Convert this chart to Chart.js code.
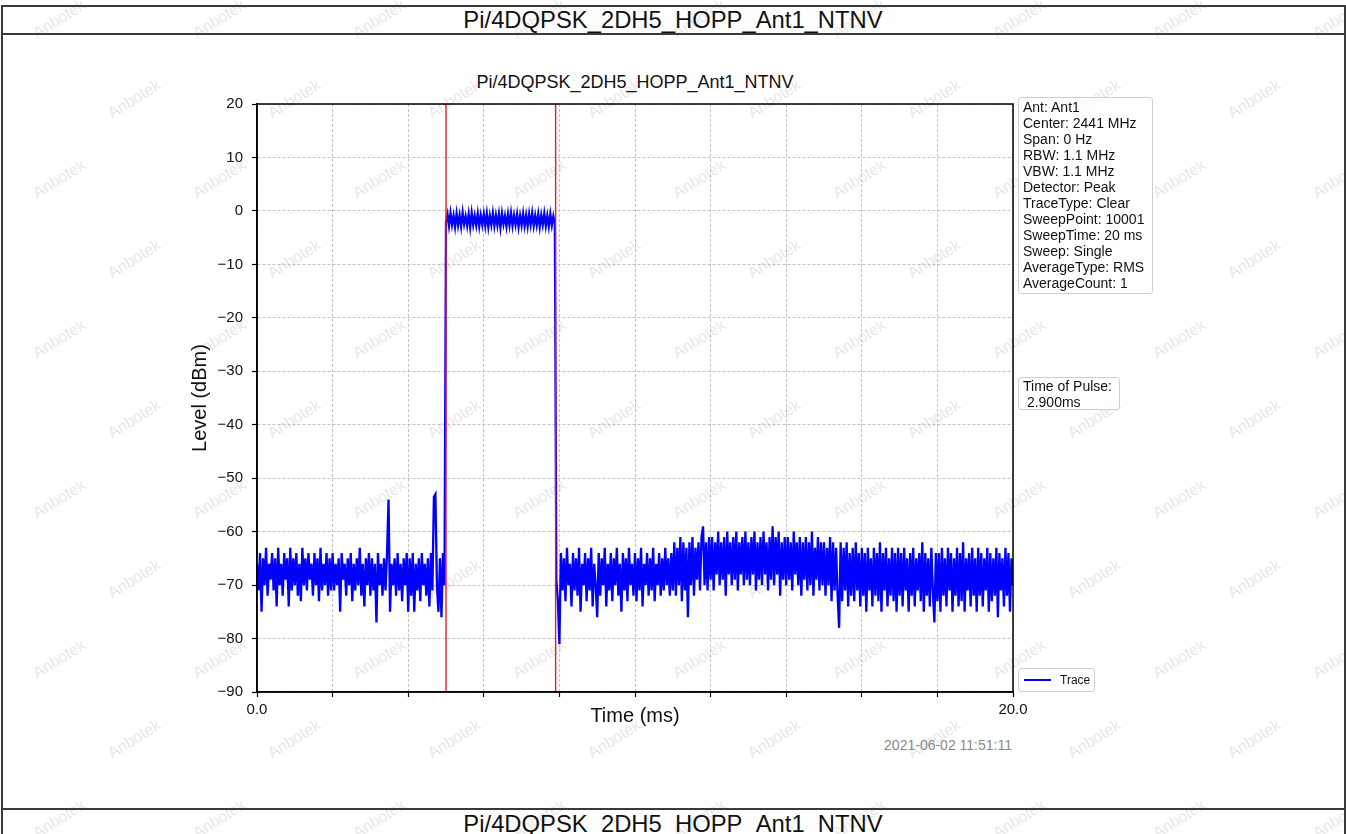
<!DOCTYPE html>
<html>
<head>
<meta charset="utf-8">
<script src="https://cdn.jsdelivr.net/npm/chart.js@4.4.1/dist/chart.umd.min.js"></script>
<style>
  body { margin: 0; width: 1346px; height: 834px; overflow: hidden; background: #fff; position: relative;
         font-family: "Liberation Sans", Arial, sans-serif; }
  .abs { position: absolute; }
  .frame { left: 1px; top: 5px; width: 1341px; height: 840px; border: 2px solid #3a3a3a; border-bottom: none; }
  .hline { left: 1px; width: 1343px; height: 0; border-top: 2px solid #3a3a3a; }
  .rowTitle { left: 0; width: 1346px; text-align: center; font-size: 23.8px; line-height: 29px; color: #111; }
  .wm { color: #e8e8e8; font-size: 16px; transform: rotate(-32deg); white-space: nowrap; }
  .box { background: rgba(255,255,255,0.85); border: 1px solid #cfcfcf; border-radius: 3px; font-size: 14px;
         line-height: 16px; color: #111; white-space: pre; box-sizing: border-box; }
</style>
</head>
<body>
<div id="wms"></div>
<div class="abs frame"></div>
<div class="abs hline" style="top:33px"></div>
<div class="abs hline" style="top:808px"></div>
<div class="abs rowTitle" style="top:5px">Pi/4DQPSK_2DH5_HOPP_Ant1_NTNV</div>
<div class="abs rowTitle" style="top:809px">Pi/4DQPSK_2DH5_HOPP_Ant1_NTNV</div>

<div class="abs" style="left:335px;width:600px;top:72px;text-align:center;font-size:18px;line-height:20px;color:#111">Pi/4DQPSK_2DH5_HOPP_Ant1_NTNV</div>

<canvas id="myChart" class="abs" style="left:180px;top:86px" width="860" height="642"></canvas>

<div id="infoBox" class="abs box" style="left:1018px;top:97px;width:135px;height:197px;padding:1px 0 0 4px"></div>
<div id="pulseBox" class="abs box" style="left:1018px;top:377px;width:102px;height:33px;padding:0 0 0 4px"></div>

<!-- legend done by hand, sits outside the plot like the original -->
<div class="abs box" style="left:1018px;top:668px;width:77px;height:24px">
  <div class="abs" style="left:5px;top:10px;width:27px;height:2px;background:#0000ff"></div>
  <div class="abs" style="left:41px;top:4px;font-size:12px;line-height:14px">Trace</div>
</div>

<div class="abs" style="left:812px;width:200px;top:737px;text-align:right;font-size:14px;line-height:16px;color:#8a8a8a">2021-06-02 11:51:11</div>

<script>
// measurement settings shown in the box on the right
const settings = ['Ant: Ant1', 'Center: 2441 MHz', 'Span: 0 Hz', 'RBW: 1.1 MHz', 'VBW: 1.1 MHz', 'Detector: Peak',
  'TraceType: Clear', 'SweepPoint: 10001', 'SweepTime: 20 ms', 'Sweep: Single', 'AverageType: RMS', 'AverageCount: 1'];
const pulseText = ['Time of Pulse:', ' 2.900ms'];

// sweep + markers (ms)
const sweepTime = 20;
const pulseStart = 5.0;
const pulseEnd = 7.9;

// axis ticks
const xTicks = [0, 2, 4, 6, 8, 10, 12, 14, 16, 18, 20];
const xLabels = ['0.0', '', '', '', '', '', '', '', '', '', '20.0'];
const yTicks = [20, 10, 0, -10, -20, -30, -40, -50, -60, -70, -80, -90];

// trace levels (dBm), one value every 0.04 ms
// noise floor before the burst, 0 - 4.96 ms
const levelsBefore = [
  -66,-71,-64,-75,-65,-70,-63,-72,-66,-69,-64,-71,-65,-74,-63,-70,-66,-72,-64,-69,-65,-74,-63,-71,-65,
  -70,-64,-72,-66,-73,-63,-70,-65,-71,-64,-69,-66,-72,-64,-70,-65,-73,-63,-71,-66,-70,-64,-72,-65,-71,
  -64,-71,-66,-70,-65,-75,-64,-69,-66,-72,-65,-70,-64,-73,-66,-71,-65,-70,-63,-72,-66,-74,-65,-70,-64,
  -72,-65,-71,-66,-77,-64,-70,-66,-72,-65,-71,-64,-54,-75,-66,-70,-65,-72,-64,-71,-66,-73,-65,-70,-64,
  -75,-65,-72,-64,-75,-66,-71,-65,-73,-64,-70,-66,-72,-65,-74,-64,-71,-53.5,-53,-70,-75,-65,-76,-64,-70
];
// the burst itself, 5.00 - 7.88 ms
const levelsPulse = [
  -2,-0.6,-2.8,-0.4,-2.6,-0.9,-3,-0.5,-2.7,-0.8,-2.9,-0.3,-2.5,-1,-2.8,-0.6,-3.1,-0.4,-2.6,-0.9,-2.7,-0.5,-2.9,-0.8,-2.6,
  -0.6,-2.8,-0.5,-3,-0.9,-2.6,-0.4,-2.8,-0.8,-2.7,-0.6,-3.1,-0.5,-2.5,-0.9,-2.9,-0.6,-2.7,-0.4,-2.8,-0.8,-2.6,-0.6,-3,-0.9,
  -2.7,-0.5,-2.8,-0.8,-2.9,-0.6,-2.6,-0.4,-2.8,-0.9,-2.7,-0.6,-3,-0.8,-2.6,-0.5,-2.8,-0.9,-2.9,-0.6,-2.7,-1,-2.4
];
// noise floor after the burst, 7.92 - 20 ms
const levelsAfter = [
  -69,-73,
  -81,-64,-71,-65,-73,-63,-70,-66,-74,-64,-71,-65,-72,-63,-75,-66,-70,-64,-73,-65,-71,-63,-74,-66,-70,
  -76,-64,-72,-65,-70,-63,-74,-66,-71,-64,-73,-65,-70,-63,-72,-66,-75,-64,-71,-65,-73,-63,-70,-66,-72,
  -64,-73,-65,-71,-63,-74,-66,-70,-64,-72,-65,-71,-63,-73,-66,-70,-64,-72,-65,-71,-63,-70,-65,-72,-64,
  -71,-62,-72,-63,-70,-61,-73,-62,-71,-63,-76,-62,-70,-61,-72,-63,-69,-62,-71,-61,-59,-70,-62,-71,-61,
  -69,-61,-71,-62,-68,-60,-70,-62,-69,-61,-72,-60,-68,-62,-70,-61,-69,-60,-71,-62,-68,-61,-70,-60,-69,
  -62,-70,-61,-68,-60,-71,-62,-69,-61,-70,-60,-68,-62,-71,-61,-69,-59,-70,-61,-68,-60,-72,-62,-69,-61,
  -70,-61,-69,-62,-71,-60,-68,-62,-70,-61,-72,-62,-69,-61,-71,-62,-70,-60,-72,-63,-69,-61,-71,-62,-70,
  -62,-72,-63,-70,-61,-73,-62,-71,-63,-72,-78,-62,-73,-63,-71,-62,-74,-64,-72,-63,-73,-62,-71,-64,-74,
  -63,-72,-64,-75,-63,-71,-65,-74,-63,-72,-64,-73,-62,-75,-64,-71,-63,-74,-65,-72,-63,-73,-64,-75,-63,
  -72,-64,-74,-63,-71,-65,-75,-64,-72,-63,-74,-65,-71,-64,-73,-62,-75,-64,-72,-65,-74,-63,-71,-77,-64,
  -73,-64,-75,-63,-72,-65,-74,-63,-71,-64,-75,-65,-72,-63,-74,-64,-73,-62,-75,-65,-71,-64,-74,-63,-72,
  -65,-75,-63,-72,-64,-74,-65,-71,-63,-75,-64,-73,-65,-72,-63,-76,-64,-71,-65,-74,-63,-72,-64,-75,-65,-70
];

//text boxes
document.getElementById('infoBox').textContent = settings.join('\n');
document.getElementById('pulseBox').textContent = pulseText.join('\n');

//faint "Anbotek" watermark tiles like the scanned report
const wms = document.getElementById('wms');
for (let r = 0; r < 11; r++) {
  for (let c = 0; c < 9; c++) {
    const d = document.createElement('div');
    d.className = 'abs wm';
    d.textContent = 'Anbotek';
    d.style.left = (30 + c * 160 + (r % 2) * 75) + 'px';
    d.style.top = (10 + r * 80) + 'px';
    wms.appendChild(d);
  }
}

//build the trace, samples evenly spread over the sweep
const levels = levelsBefore.concat(levelsPulse, levelsAfter);
const step = sweepTime / (levels.length - 1);
const trace = levels.map((v, i) => ({x: i * step, y: v}));

const minus = (s) => String(s).replace('-', '\u2212');

//draws the full black box round the plot (top + right spines)
const frameBox = {
  id: 'frameBox',
  afterDraw(chart) {
    const {ctx, chartArea: a} = chart;
    ctx.save();
    ctx.strokeStyle = '#000';
    ctx.lineWidth = 1.5;
    ctx.strokeRect(a.left, a.top, a.right - a.left, a.bottom - a.top);
    ctx.restore();
  }
};

//red marker lines go first so they end up drawn over the trace
const ctx = document.getElementById('myChart');
const chart1 = new Chart(ctx, {
  type: 'line',
  data: {
    datasets: [
      {label: 'start', data: [{x: pulseStart, y: yTicks[yTicks.length - 1]}, {x: pulseStart, y: yTicks[0]}],
        borderColor: 'rgb(232,28,36)', borderWidth: 1.4, pointRadius: 0},
      {label: 'end', data: [{x: pulseEnd, y: yTicks[yTicks.length - 1]}, {x: pulseEnd, y: yTicks[0]}],
        borderColor: 'rgb(232,28,36)', borderWidth: 1.4, pointRadius: 0},
      {label: 'Trace', data: trace, borderColor: '#0000ff', borderWidth: 2.3, pointRadius: 0, tension: 0}
    ]
  },
  options: {
    responsive: false,
    animation: false,
    layout: {padding: {top: 10, right: 27, left: 0, bottom: 0}},
    plugins: {legend: {display: false}, tooltip: {enabled: false}},
    scales: {
      x: {
        type: 'linear',
        min: xTicks[0],
        max: xTicks[xTicks.length - 1],
        afterFit: (s) => { s.height = 36; },
        afterBuildTicks: (s) => { s.ticks = xTicks.map(v => ({value: v})); },
        ticks: {
          autoSkip: false, maxRotation: 0, padding: 4, color: '#111',
          font: {family: 'Liberation Sans', size: 15},
          callback: (v) => xLabels[xTicks.indexOf(v)] ?? ''
        },
        grid: {color: '#b4b4b4', lineWidth: 0.8, tickColor: '#000', tickLength: 5, tickWidth: 1.2},
        border: {display: true, color: '#000', width: 1.5, dash: [3, 2]},
        title: {display: true, text: 'Time (ms)', color: '#111', padding: 0,
          font: {family: 'Liberation Sans', size: 20}}
      },
      y: {
        min: yTicks[yTicks.length - 1],
        max: yTicks[0],
        afterFit: (s) => { s.width = 77; },
        afterBuildTicks: (s) => { s.ticks = yTicks.map(v => ({value: v})); },
        ticks: {
          padding: 9, color: '#111',
          font: {family: 'Liberation Sans', size: 15},
          callback: (v) => minus(v)
        },
        grid: {color: '#b4b4b4', lineWidth: 0.8, tickColor: '#000', tickLength: 5, tickWidth: 1.2},
        border: {display: true, color: '#000', width: 1.5, dash: [3, 2]},
        title: {display: true, text: 'Level (dBm)', color: '#111', padding: {top: 8, bottom: 0},
          font: {family: 'Liberation Sans', size: 20}}
      }
    }
  },
  plugins: [frameBox]
});
</script>
</body>
</html>
